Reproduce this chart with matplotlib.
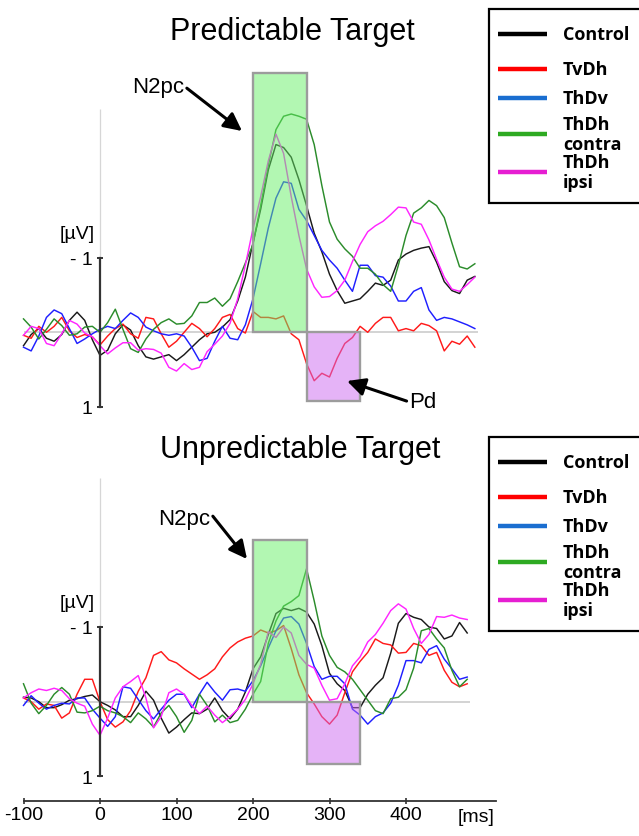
import matplotlib
matplotlib.use('Agg')
import matplotlib.pyplot as plt
from matplotlib.patches import Rectangle

plt.rcParams['font.family'] = ['Liberation Sans', 'DejaVu Sans']

W, H = 639, 837

# conditions, plot colours and legend colours
conditions = ['Control', 'TvDh', 'ThDv', 'ThDh\ncontra', 'ThDh\nipsi']
line_colors = ['#1a1a1a', '#ff1a1a', '#1f1fff', '#2b8c2b', '#ff26ff']
legend_colors = ['#000000', '#ff0000', '#1a6ed0', '#2eaa22', '#e61ed2']

# time axis [ms]
time_top = list(range(-100, 500, 10))
time_bottom = list(range(-100, 490, 10))

# Predictable target [uV]
top_control = [0.18, 0.03, -0.05, 0.08, 0.12, 0.03, -0.16, -0.27, -0.16, 0.1,
               0.31, 0.24, 0.02, -0.1, -0.03, 0.18, 0.33, 0.36, 0.33, 0.3,
               0.38, 0.3, 0.2, 0.1, 0.02, 0.0, -0.07, -0.17, -0.42, -0.74,
               -1.2, -1.65, -2.18, -2.52, -2.48, -2.35, -2.05, -1.7, -1.33, -1.08,
               -0.78, -0.56, -0.39, -0.42, -0.45, -0.55, -0.66, -0.63, -0.7, -0.97,
               -1.05, -1.1, -1.13, -1.15, -0.94, -0.68, -0.56, -0.52, -0.7, -0.75]
top_tvdh = [0.04, 0.08, -0.08, 0.0, -0.08, -0.2, -0.02, 0.07, 0.03, 0.06,
            0.17, 0.05, -0.05, -0.11, 0.02, 0.08, -0.2, -0.18, 0.02, 0.2,
            0.12, 0.0, -0.12, -0.05, 0.06, -0.05, -0.2, -0.24, -0.05, 0.01,
            -0.28, -0.2, -0.2, -0.18, -0.22, 0.02, 0.1, 0.42, 0.65, 0.55,
            0.6, 0.35, 0.15, 0.07, -0.08, 0.0, -0.12, -0.2, -0.2, -0.02,
            -0.05, -0.02, -0.12, -0.09, -0.02, 0.25, 0.12, 0.16, 0.05, 0.2]
top_thdv = [0.2, 0.25, 0.05, -0.2, -0.3, -0.25, -0.05, 0.15, 0.09, 0.02,
            -0.04, -0.08, -0.05, -0.16, -0.26, -0.2, -0.07, -0.02, 0.02, 0.04,
            0.02, 0.05, 0.2, 0.38, 0.35, 0.12, -0.08, 0.08, 0.1, -0.1,
            -0.45, -0.92, -1.4, -1.8, -2.02, -2.0, -1.65, -1.5, -1.3, -1.1,
            -0.97, -0.86, -0.7, -0.55, -0.9, -0.9, -0.76, -0.74, -0.62, -0.42,
            -0.42, -0.55, -0.6, -0.3, -0.16, -0.2, -0.18, -0.14, -0.1, -0.05]
top_contra = [-0.18, -0.07, 0.09, -0.04, -0.18, -0.09, 0.04, 0.02, -0.07, -0.08,
              0.0, -0.13, -0.31, -0.04, 0.22, 0.27, 0.09, -0.04, -0.13, -0.18,
              -0.11, -0.12, -0.22, -0.4, -0.4, -0.46, -0.35, -0.45, -0.68, -0.93,
              -1.18, -1.7, -2.24, -2.72, -2.9, -2.93, -2.9, -2.86, -2.52, -1.97,
              -1.48, -1.25, -1.12, -1.02, -0.86, -0.86, -0.78, -0.64, -0.55, -0.9,
              -1.3, -1.6, -1.67, -1.77, -1.7, -1.54, -1.2, -0.88, -0.85, -0.92]
top_ipsi = [0.04, -0.08, -0.05, 0.15, 0.18, 0.02, -0.16, -0.11, 0.01, 0.06,
            0.18, 0.29, 0.21, 0.14, 0.14, 0.24, 0.22, 0.23, 0.28, 0.47,
            0.52, 0.42, 0.5, 0.47, 0.26, 0.16, 0.05, -0.12, -0.45, -0.9,
            -1.39, -1.82, -2.3, -2.66, -2.4, -1.82, -1.3, -0.85, -0.61, -0.47,
            -0.48, -0.56, -0.7, -0.95, -1.18, -1.35, -1.43, -1.49, -1.58, -1.68,
            -1.67, -1.48, -1.45, -1.24, -0.98, -0.74, -0.58, -0.55, -0.64, -0.74]

# Unpredictable target [uV]
bot_control = [-0.06, -0.05, 0.0, 0.08, 0.08, 0.04, -0.02, -0.04, -0.07, -0.09,
               0.0, 0.05, 0.11, 0.2, 0.2, 0.05, -0.14, -0.02, 0.22, 0.42,
               0.34, 0.24, 0.15, 0.16, 0.1, -0.05, 0.12, 0.23, 0.1, -0.13,
               -0.44, -0.6, -0.9, -1.18, -1.25, -1.22, -1.25, -1.2, -1.04, -0.75,
               -0.38, -0.24, -0.15, 0.08, 0.08, -0.1, -0.22, -0.32, -0.65, -1.05,
               -1.18, -1.13, -1.1, -1.0, -0.98, -0.84, -0.88, -1.06, -0.92]
bot_tvdh = [-0.05, 0.0, 0.1, 0.03, 0.05, 0.22, 0.15, -0.1, -0.3, -0.3,
            0.0, 0.24, 0.34, 0.27, 0.12, -0.14, -0.32, -0.62, -0.67, -0.56,
            -0.52, -0.44, -0.37, -0.3, -0.36, -0.44, -0.6, -0.72, -0.8, -0.85,
            -0.88, -0.96, -0.92, -0.95, -1.02, -0.71, -0.36, -0.12, 0.03, 0.2,
            0.3, 0.18, -0.12, -0.4, -0.54, -0.66, -0.84, -0.78, -0.76, -0.65,
            -0.66, -0.78, -0.75, -0.62, -0.66, -0.42, -0.26, -0.2, -0.24]
bot_thdv = [0.05, -0.08, 0.02, 0.1, 0.05, 0.02, 0.03, -0.05, -0.05, 0.1,
            0.22, 0.33, 0.2, -0.2, -0.18, -0.03, 0.12, 0.23, 0.1, -0.02,
            -0.1, -0.1, 0.08, -0.1, -0.26, -0.13, -0.02, -0.16, -0.17, -0.14,
            -0.28, -0.48, -0.72, -0.95, -1.12, -1.14, -1.04, -0.78, -0.47, -0.3,
            -0.34, -0.34, -0.24, 0.1, 0.18, 0.3, 0.2, 0.15, 0.02, -0.22,
            -0.55, -0.55, -0.52, -0.7, -0.75, -0.57, -0.44, -0.3, -0.33]
bot_contra = [-0.24, 0.02, 0.16, 0.05, -0.1, -0.19, -0.1, 0.14, 0.15, 0.12,
              0.06, 0.12, 0.15, 0.2, 0.28, 0.15, 0.23, 0.34, 0.15, 0.05,
              0.2, 0.41, 0.25, -0.1, 0.05, 0.27, 0.18, 0.28, 0.25, 0.1,
              -0.1, -0.27, -0.78, -1.08, -1.28, -1.34, -1.42, -1.78, -1.35, -0.88,
              -0.62, -0.46, -0.4, -0.3, -0.16, -0.02, 0.12, 0.16, -0.04, -0.06,
              -0.16, -0.45, -0.95, -0.98, -0.84, -0.72, -0.42, -0.2, -0.3]
bot_ipsi = [-0.05, -0.12, -0.17, -0.15, -0.18, -0.15, -0.04, 0.02, 0.06, 0.3,
            0.45, 0.22, -0.05, -0.2, -0.27, -0.35, -0.05, 0.35, 0.2, -0.12,
            -0.17, -0.1, 0.05, 0.16, 0.06, 0.18, 0.28, 0.2, 0.1, -0.03,
            -0.24, -0.5, -0.94, -0.86, -1.0, -0.92, -0.62, -0.5, -0.45, -0.22,
            -0.02, -0.04, -0.24, -0.48, -0.6, -0.8, -0.9, -1.05, -1.22, -1.31,
            -1.24, -0.98, -0.78, -0.9, -1.14, -1.13, -1.16, -1.12, -1.1]

# analysis windows: (start ms, end ms, amplitude uV)
top_n2pc_win = (200, 270, -3.48)
top_pd_win = (270, 340, 0.92)
bot_n2pc_win = (200, 270, -2.16)
bot_pd_win = (270, 340, 0.83)


fig = plt.figure(figsize=(W / 100, H / 100), dpi=100)


def panel_axes(top, bottom, zero, scale):
    # axes placed in pixel units so both panels share the same ms scale
    ax = fig.add_axes([20 / W, 1 - bottom / H, 480 / W, (bottom - top) / H])
    ax.set_xlim((20 - 100) / 0.765, (500 - 100) / 0.765)
    ax.set_ylim((bottom - zero) / scale, (top - zero) / scale)
    ax.patch.set_alpha(0)
    for s in ['top', 'right', 'bottom']:
        ax.spines[s].set_visible(False)
    ax.spines['left'].set_position(('data', 0))
    ax.spines['left'].set_bounds(-1, 1)
    ax.spines['left'].set_linewidth(1.6)
    ax.spines['left'].set_color('#333333')
    ax.set_yticks([-1, 1])
    ax.set_yticklabels(['- 1', '1'], fontsize=14)
    ax.tick_params(axis='y', direction='inout', length=5, width=1.4,
                   color='#333333', pad=3)
    ax.set_xticks([])
    return ax


def draw_panel(ax, t, series, n2pc, pd_win):
    ax.vlines(0, -3, -1, color='#d6d6d6', lw=0.9, zorder=1)
    ax.hlines(0, t[0], t[-1] + 4, color='#d0d0d0', lw=1.3, zorder=1)
    for y, c in zip(series, line_colors):
        ax.plot(t, y, color=c, lw=1.05, zorder=2)
    ax.add_patch(Rectangle((n2pc[0], 0), n2pc[1] - n2pc[0], n2pc[2],
                           facecolor=(0.40, 0.94, 0.40, 0.5),
                           edgecolor='#9c9c9c', lw=1.7, zorder=3))
    ax.add_patch(Rectangle((pd_win[0], 0), pd_win[1] - pd_win[0], pd_win[2],
                           facecolor=(0.80, 0.41, 0.94, 0.5),
                           edgecolor='#9c9c9c', lw=1.7, zorder=3))


ax_top = panel_axes(60, 420, 333.3, 74.5)
draw_panel(ax_top, time_top,
           [top_control, top_tvdh, top_thdv, top_contra, top_ipsi],
           top_n2pc_win, top_pd_win)

ax_bot = panel_axes(470, 802, 702.7, 74.7)
draw_panel(ax_bot, time_bottom,
           [bot_control, bot_tvdh, bot_thdv, bot_contra, bot_ipsi],
           bot_n2pc_win, bot_pd_win)
ax_bot.spines['bottom'].set_visible(True)
ax_bot.spines['bottom'].set_bounds(-100, 518)
ax_bot.spines['bottom'].set_linewidth(1.3)
ax_bot.spines['bottom'].set_color('#333333')
ax_bot.set_xticks([-100, 0, 100, 200, 300, 400])
ax_bot.set_xticklabels(['-100', '0', '100', '200', '300', '400'], fontsize=14)
ax_bot.tick_params(axis='x', direction='inout', length=4.5, width=1.2,
                   color='#333333', pad=1)

# overlay in pixel coordinates for titles, annotations and legends
ov = fig.add_axes([0, 0, 1, 1])
ov.set_xlim(0, W)
ov.set_ylim(H, 0)
ov.axis('off')

ov.text(292, 32, 'Predictable Target', fontsize=22, ha='center', va='center')
ov.text(300, 450, 'Unpredictable Target', fontsize=22, ha='center', va='center')
for y in (234, 603):
    ov.text(77, y, '[µV]', fontsize=14, ha='center', va='center')
ov.text(476, 818, '[ms]', fontsize=14, ha='center', va='center')

arrow = dict(arrowstyle='-|>,head_length=0.6,head_width=0.3', lw=2.2,
             color='black', shrinkA=0, shrinkB=0, mutation_scale=18)
ov.annotate('N2pc', xy=(242, 132), xytext=(158, 87), fontsize=16,
            ha='center', va='center', arrowprops=dict(arrow, relpos=(1.0, 0.5)))
ov.annotate('Pd', xy=(347, 382), xytext=(423, 403), fontsize=16,
            ha='center', va='center', arrowprops=dict(arrow, relpos=(0.0, 0.5)))
ov.annotate('N2pc', xy=(247, 560), xytext=(184, 520), fontsize=16,
            ha='center', va='center', arrowprops=dict(arrow, relpos=(1.0, 0.8)))


def draw_legend(top):
    ov.add_patch(Rectangle((489, top), 165, 194, facecolor='white',
                           edgecolor='black', lw=1.6, clip_on=False))
    offsets = [25, 60, 89, 125, 163]
    for lab, c, dy in zip(conditions, legend_colors, offsets):
        ov.plot([498, 547], [top + dy, top + dy], color=c, lw=3.2,
                solid_capstyle='butt')
        ov.text(563, top + dy, lab, fontsize=13, fontweight='bold',
                family='Open Sans', ha='left', va='center', linespacing=1.1)


draw_legend(10)
draw_legend(438)

fig.savefig('out.png', dpi=100)
